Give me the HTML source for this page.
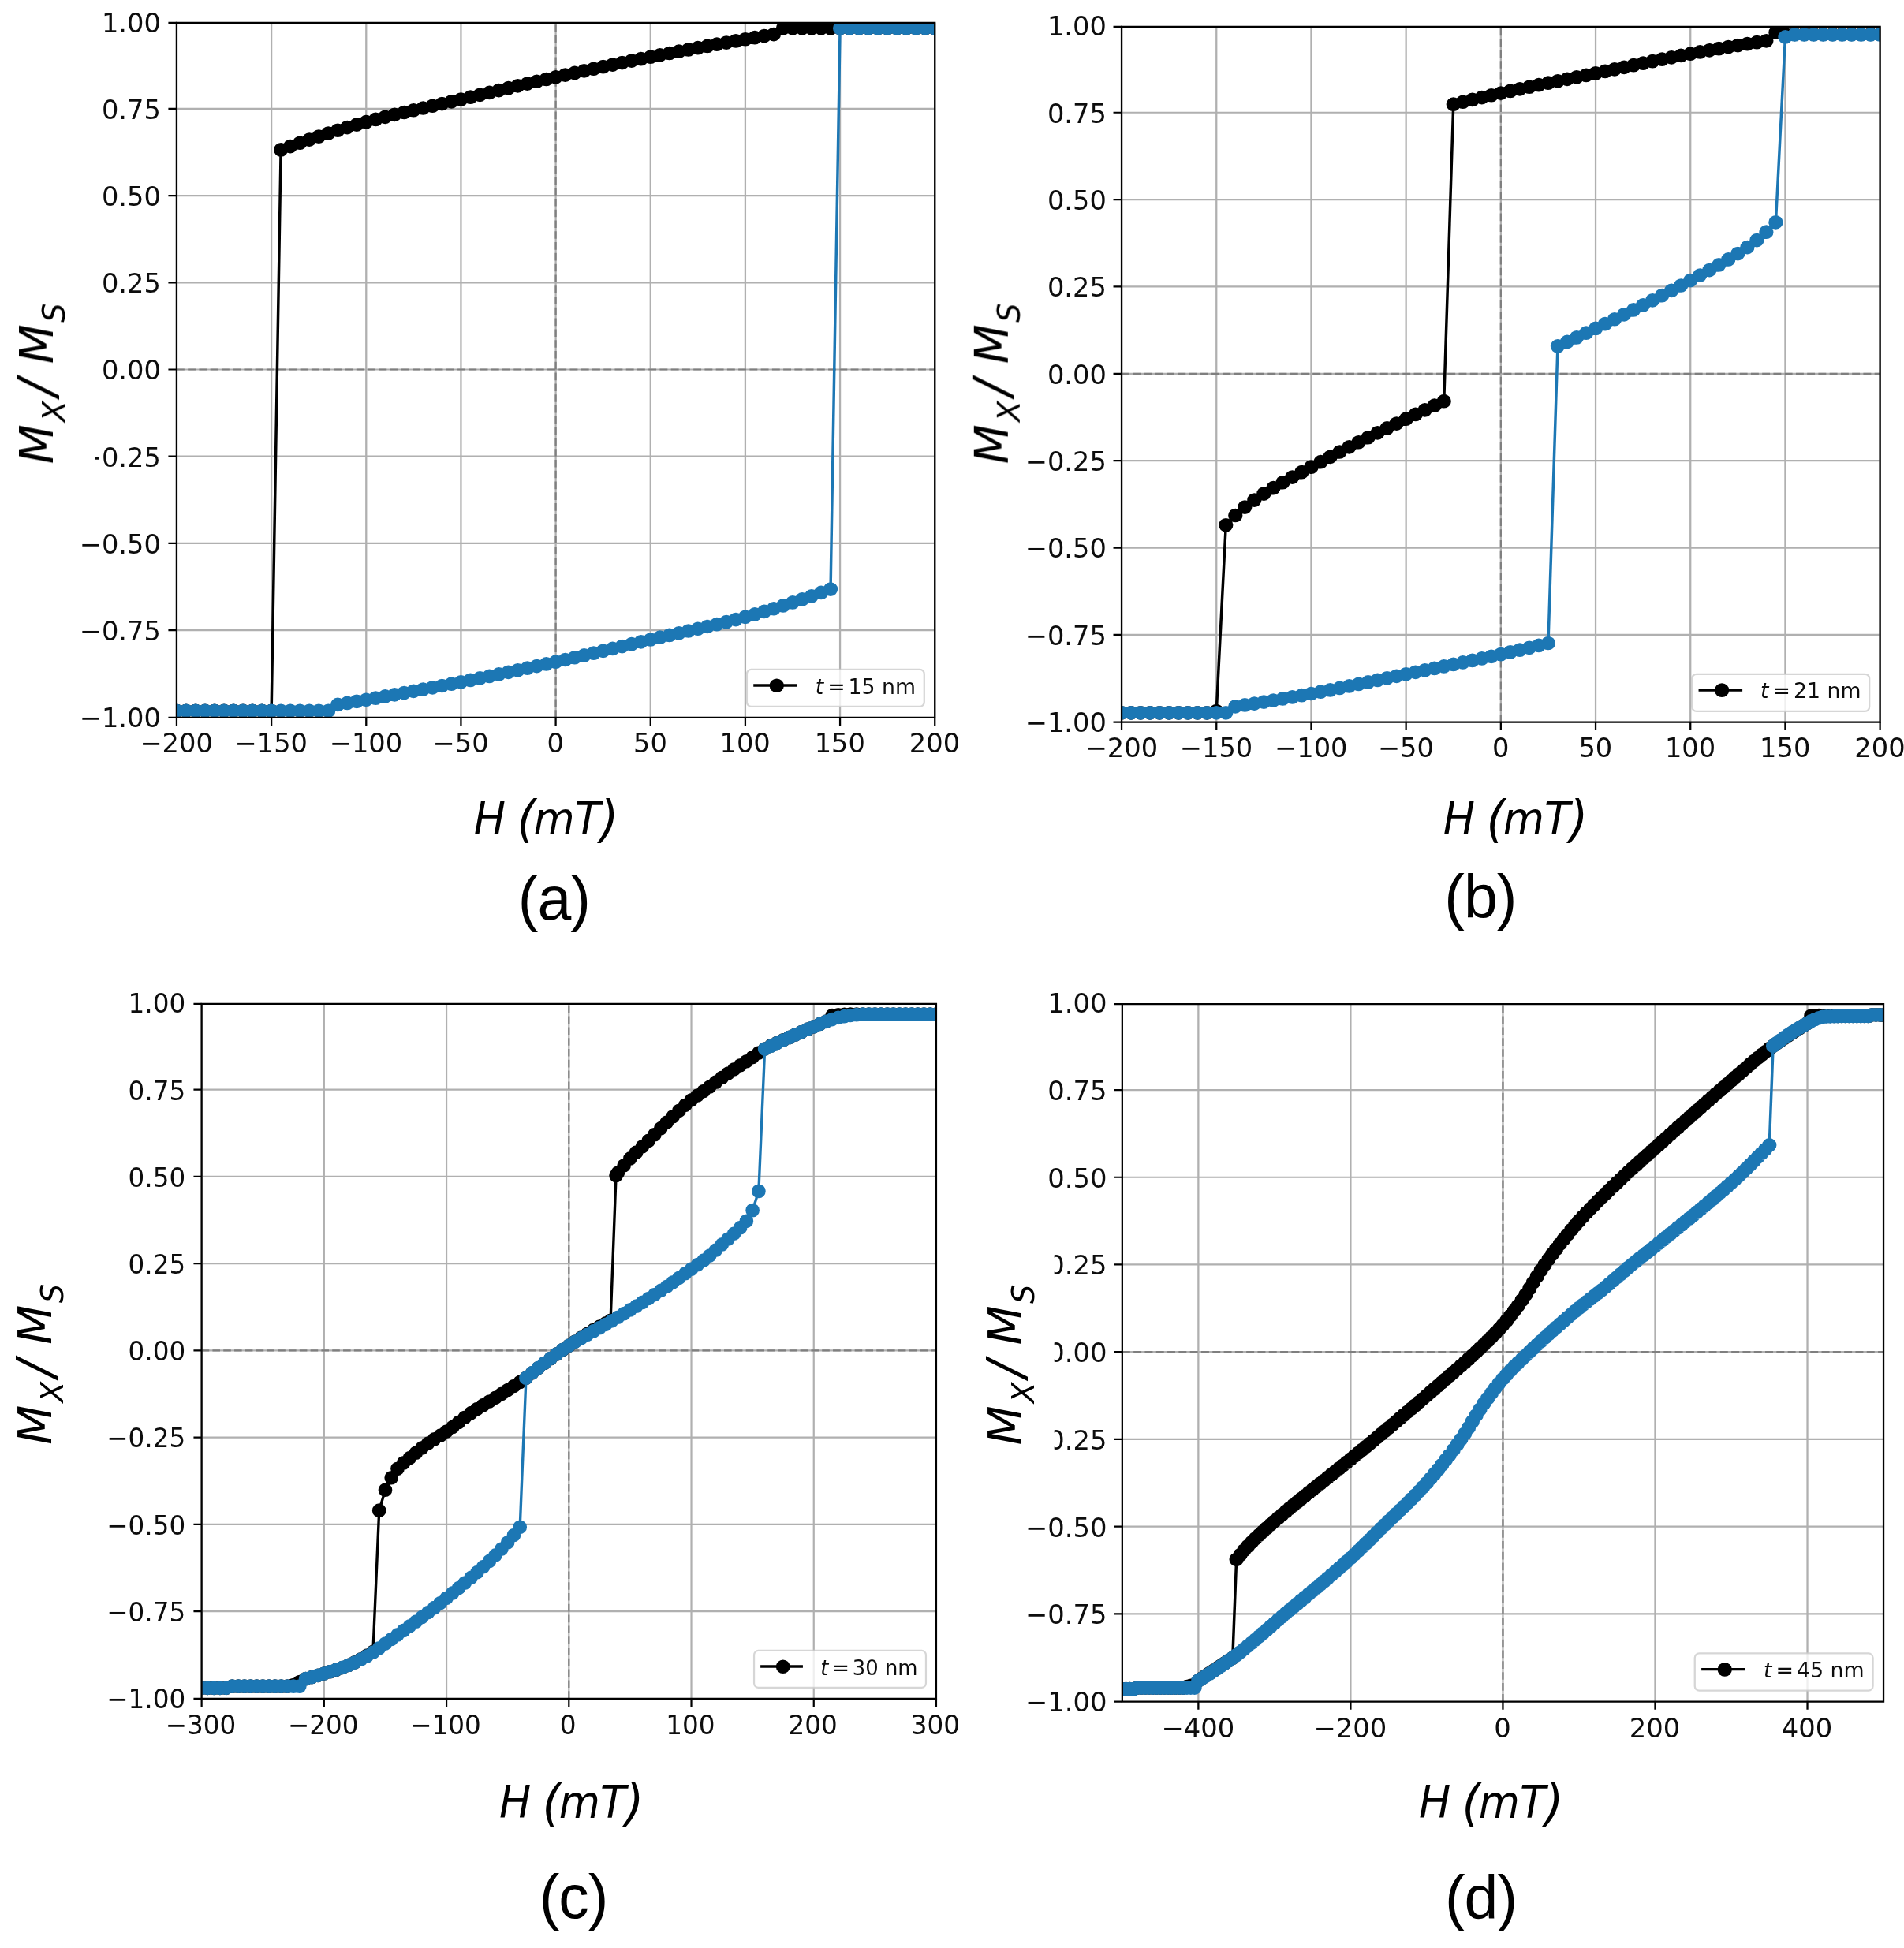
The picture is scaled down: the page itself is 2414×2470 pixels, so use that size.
<!DOCTYPE html>
<html lang="en"><head><meta charset="utf-8"><title>Hysteresis loops</title>
<style>html,body{margin:0;padding:0;background:#fff}svg{display:block;font-family:"DejaVu Sans","Liberation Sans",sans-serif}</style></head>
<body>
<svg width="2414" height="2470" viewBox="0 0 2414 2470">
<rect width="2414" height="2470" fill="#fff"/>
<defs><filter id="soft" x="-5%" y="-5%" width="110%" height="110%"><feGaussianBlur stdDeviation="0.7"/></filter></defs>
<g filter="url(#soft)"><g transform="translate(223.95,27.7) scale(1.03215,0.99957)">
<clipPath id="clip_a"><rect x="0" y="1.27" width="931.34" height="881.21"/></clipPath>
<path d="M0 1.27V882.48M116.42 1.27V882.48M232.84 1.27V882.48M349.25 1.27V882.48M465.67 1.27V882.48M582.09 1.27V882.48M698.5 1.27V882.48M814.92 1.27V882.48M931.34 1.27V882.48M0 110.25H931.34M0 220.5H931.34M0 330.74H931.34M0 440.99H931.34M0 551.24H931.34M0 661.49H931.34M0 771.73H931.34" stroke="#b0b0b0" stroke-width="2.2" fill="none"/>
<path d="M0 440.99H931.34M465.67 882.48V1.27" stroke="#7f7f7f" stroke-width="2.2" stroke-dasharray="9.6 4.2" fill="none"/>
<g clip-path="url(#clip_a)">
<path d="M931.34 7.94L919.7 7.94L908.06 7.94L896.41 7.94L884.77 7.94L873.13 7.94L861.49 7.94L849.85 7.94L838.21 7.94L826.56 7.94L814.92 7.94L803.28 7.94L791.64 7.94L780 7.94L768.36 7.94L756.71 7.94L745.07 7.94L733.43 15.88L721.79 17.9L710.15 19.95L698.5 22.05L686.86 24.19L675.22 26.35L663.58 28.53L651.94 30.74L640.3 32.97L628.65 35.22L617.01 37.51L605.37 39.82L593.73 42.16L582.09 44.54L570.45 46.95L558.8 49.4L547.16 51.89L535.52 54.41L523.88 56.97L512.24 59.55L500.6 62.16L488.95 64.79L477.31 67.44L465.67 70.12L454.03 72.83L442.39 75.58L430.74 78.37L419.1 81.19L407.46 84.03L395.82 86.89L384.18 89.75L372.54 92.62L360.89 95.49L349.25 98.34L337.61 101.15L325.97 103.9L314.33 106.62L302.69 109.34L291.04 112.08L279.4 114.86L267.76 117.72L256.12 120.68L244.48 123.77L232.84 127.01L221.19 130.4L209.55 133.95L197.91 137.63L186.27 141.45L174.63 145.4L162.98 149.46L151.34 153.63L139.7 157.91L128.06 162.28L116.42 874.04L104.78 874.04L93.13 874.04L81.49 874.04L69.85 874.04L58.21 874.04L46.57 874.04L34.93 874.04L23.28 874.04L11.64 874.04L0 874.04" stroke="#000" stroke-width="3.4" fill="none" stroke-linejoin="round"/>
<path d="M931.34 7.94h0M919.7 7.94h0M908.06 7.94h0M896.41 7.94h0M884.77 7.94h0M873.13 7.94h0M861.49 7.94h0M849.85 7.94h0M838.21 7.94h0M826.56 7.94h0M814.92 7.94h0M803.28 7.94h0M791.64 7.94h0M780 7.94h0M768.36 7.94h0M756.71 7.94h0M745.07 7.94h0M733.43 15.88h0M721.79 17.9h0M710.15 19.95h0M698.5 22.05h0M686.86 24.19h0M675.22 26.35h0M663.58 28.53h0M651.94 30.74h0M640.3 32.97h0M628.65 35.22h0M617.01 37.51h0M605.37 39.82h0M593.73 42.16h0M582.09 44.54h0M570.45 46.95h0M558.8 49.4h0M547.16 51.89h0M535.52 54.41h0M523.88 56.97h0M512.24 59.55h0M500.6 62.16h0M488.95 64.79h0M477.31 67.44h0M465.67 70.12h0M454.03 72.83h0M442.39 75.58h0M430.74 78.37h0M419.1 81.19h0M407.46 84.03h0M395.82 86.89h0M384.18 89.75h0M372.54 92.62h0M360.89 95.49h0M349.25 98.34h0M337.61 101.15h0M325.97 103.9h0M314.33 106.62h0M302.69 109.34h0M291.04 112.08h0M279.4 114.86h0M267.76 117.72h0M256.12 120.68h0M244.48 123.77h0M232.84 127.01h0M221.19 130.4h0M209.55 133.95h0M197.91 137.63h0M186.27 141.45h0M174.63 145.4h0M162.98 149.46h0M151.34 153.63h0M139.7 157.91h0M128.06 162.28h0M116.42 874.04h0M104.78 874.04h0M93.13 874.04h0M81.49 874.04h0M69.85 874.04h0M58.21 874.04h0M46.57 874.04h0M34.93 874.04h0M23.28 874.04h0M11.64 874.04h0M0 874.04h0" stroke="#000" stroke-width="17.7" stroke-linecap="round" fill="none"/>
<path d="M0 874.04L11.64 874.04L23.28 874.04L34.93 874.04L46.57 874.04L58.21 874.04L69.85 874.04L81.49 874.04L93.13 874.04L104.78 874.04L116.42 874.04L128.06 874.04L139.7 874.04L151.34 874.04L162.98 874.04L174.63 874.04L186.27 874.04L197.91 866.1L209.55 864.08L221.19 862.03L232.84 859.93L244.48 857.79L256.12 855.63L267.76 853.45L279.4 851.24L291.04 849.01L302.69 846.76L314.33 844.47L325.97 842.16L337.61 839.82L349.25 837.44L360.89 835.03L372.54 832.58L384.18 830.09L395.82 827.57L407.46 825.01L419.1 822.43L430.74 819.82L442.39 817.19L454.03 814.54L465.67 811.86L477.31 809.15L488.95 806.4L500.6 803.61L512.24 800.79L523.88 797.95L535.52 795.09L547.16 792.23L558.8 789.36L570.45 786.49L582.09 783.64L593.73 780.83L605.37 778.08L617.01 775.36L628.65 772.64L640.3 769.9L651.94 767.12L663.58 764.26L675.22 761.3L686.86 758.21L698.5 754.97L710.15 751.58L721.79 748.03L733.43 744.35L745.07 740.53L756.71 736.58L768.36 732.52L780 728.35L791.64 724.07L803.28 719.7L814.92 7.94L826.56 7.94L838.21 7.94L849.85 7.94L861.49 7.94L873.13 7.94L884.77 7.94L896.41 7.94L908.06 7.94L919.7 7.94L931.34 7.94" stroke="#1f77b4" stroke-width="3.4" fill="none" stroke-linejoin="round"/>
<path d="M0 874.04h0M11.64 874.04h0M23.28 874.04h0M34.93 874.04h0M46.57 874.04h0M58.21 874.04h0M69.85 874.04h0M81.49 874.04h0M93.13 874.04h0M104.78 874.04h0M116.42 874.04h0M128.06 874.04h0M139.7 874.04h0M151.34 874.04h0M162.98 874.04h0M174.63 874.04h0M186.27 874.04h0M197.91 866.1h0M209.55 864.08h0M221.19 862.03h0M232.84 859.93h0M244.48 857.79h0M256.12 855.63h0M267.76 853.45h0M279.4 851.24h0M291.04 849.01h0M302.69 846.76h0M314.33 844.47h0M325.97 842.16h0M337.61 839.82h0M349.25 837.44h0M360.89 835.03h0M372.54 832.58h0M384.18 830.09h0M395.82 827.57h0M407.46 825.01h0M419.1 822.43h0M430.74 819.82h0M442.39 817.19h0M454.03 814.54h0M465.67 811.86h0M477.31 809.15h0M488.95 806.4h0M500.6 803.61h0M512.24 800.79h0M523.88 797.95h0M535.52 795.09h0M547.16 792.23h0M558.8 789.36h0M570.45 786.49h0M582.09 783.64h0M593.73 780.83h0M605.37 778.08h0M617.01 775.36h0M628.65 772.64h0M640.3 769.9h0M651.94 767.12h0M663.58 764.26h0M675.22 761.3h0M686.86 758.21h0M698.5 754.97h0M710.15 751.58h0M721.79 748.03h0M733.43 744.35h0M745.07 740.53h0M756.71 736.58h0M768.36 732.52h0M780 728.35h0M791.64 724.07h0M803.28 719.7h0M814.92 7.94h0M826.56 7.94h0M838.21 7.94h0M849.85 7.94h0M861.49 7.94h0M873.13 7.94h0M884.77 7.94h0M896.41 7.94h0M908.06 7.94h0M919.7 7.94h0M931.34 7.94h0" stroke="#1f77b4" stroke-width="17.7" stroke-linecap="round" fill="none"/>
</g>
<rect x="700.44" y="821.57" width="217.88" height="46.95" rx="5.5" fill="#fff" fill-opacity="0.8" stroke="#ccc" stroke-opacity="0.8" stroke-width="2.2"/>
<path d="M708.5 841.7H762.3" stroke="#000" stroke-width="3.4"/>
<circle cx="737.1" cy="841.9" r="8.85" fill="#000"/>
<text y="852.2" font-size="25.9" fill="#111"><tspan x="784.6" font-style="italic">t</tspan><tspan x="799.5">=</tspan><tspan x="825.1">15 nm</tspan></text>
<path d="M0 1.27H931.34V882.48H0Z" fill="none" stroke="#000" stroke-width="2.2"/>
<path d="M0 882.48v10.2M116.42 882.48v10.2M232.84 882.48v10.2M349.25 882.48v10.2M465.67 882.48v10.2M582.09 882.48v10.2M698.5 882.48v10.2M814.92 882.48v10.2M931.34 882.48v10.2M0 1.27h-10.2M0 110.25h-10.2M0 220.5h-10.2M0 330.74h-10.2M0 440.99h-10.2M0 551.24h-10.2M0 661.49h-10.2M0 771.73h-10.2M0 882.48h-10.2" stroke="#000" stroke-width="2.2" fill="none"/>
<g font-size="32.6" fill="#111">
<text transform="translate(-0.3,927.18) scale(1,1.045)" text-anchor="middle">−200</text>
<text transform="translate(116.12,927.18) scale(1,1.045)" text-anchor="middle">−150</text>
<text transform="translate(232.53,927.18) scale(1,1.045)" text-anchor="middle">−100</text>
<text transform="translate(348.95,927.18) scale(1,1.045)" text-anchor="middle">−50</text>
<text transform="translate(465.37,927.18) scale(1,1.045)" text-anchor="middle">0</text>
<text transform="translate(581.79,927.18) scale(1,1.045)" text-anchor="middle">50</text>
<text transform="translate(698.21,927.18) scale(1,1.045)" text-anchor="middle">100</text>
<text transform="translate(814.62,927.18) scale(1,1.045)" text-anchor="middle">150</text>
<text transform="translate(931.04,927.18) scale(1,1.045)" text-anchor="middle">200</text>
<text transform="translate(-19.5,12.9) scale(1,1.045)" text-anchor="end">1.00</text>
<text transform="translate(-19.5,123.15) scale(1,1.045)" text-anchor="end">0.75</text>
<text transform="translate(-19.5,233.4) scale(1,1.045)" text-anchor="end">0.50</text>
<text transform="translate(-19.5,343.64) scale(1,1.045)" text-anchor="end">0.25</text>
<text transform="translate(-19.5,453.89) scale(1,1.045)" text-anchor="end">0.00</text>
<text transform="translate(-19.5,564.14) scale(1,1.045)" text-anchor="end">−0.25</text>
<text transform="translate(-19.5,674.38) scale(1,1.045)" text-anchor="end">−0.50</text>
<text transform="translate(-19.5,784.63) scale(1,1.045)" text-anchor="end">−0.75</text>
<text transform="translate(-19.5,894.88) scale(1,1.045)" text-anchor="end">−1.00</text>
</g>
</g></g>
<g filter="url(#soft)"><g transform="translate(1422.06,32.4) scale(1.03246,1.00099)">
<clipPath id="clip_b"><rect x="0" y="1.4" width="931.34" height="880.95"/></clipPath>
<path d="M0 1.4V882.35M116.42 1.4V882.35M232.84 1.4V882.35M349.25 1.4V882.35M465.67 1.4V882.35M582.09 1.4V882.35M698.5 1.4V882.35M814.92 1.4V882.35M931.34 1.4V882.35M0 110.25H931.34M0 220.5H931.34M0 330.74H931.34M0 440.99H931.34M0 551.24H931.34M0 661.49H931.34M0 771.73H931.34" stroke="#b0b0b0" stroke-width="2.2" fill="none"/>
<path d="M0 440.99H931.34M465.67 882.35V1.4" stroke="#7f7f7f" stroke-width="2.2" stroke-dasharray="9.6 4.2" fill="none"/>
<g clip-path="url(#clip_b)">
<path d="M931.34 11.02L919.7 11.02L908.06 11.02L896.41 11.02L884.77 11.02L873.13 11.02L861.49 11.02L849.85 11.02L838.21 11.02L826.56 11.02L814.92 11.02L803.28 8.82L791.64 19.4L780 21.28L768.36 23.2L756.71 25.17L745.07 27.18L733.43 29.25L721.79 31.36L710.15 33.52L698.5 35.72L686.86 37.99L675.22 40.34L663.58 42.76L651.94 45.23L640.3 47.74L628.65 50.27L617.01 52.82L605.37 55.37L593.73 57.91L582.09 60.42L570.45 62.9L558.8 65.36L547.16 67.82L535.52 70.28L523.88 72.75L512.24 75.24L500.6 77.76L488.95 80.31L477.31 82.9L465.67 85.55L454.03 88.26L442.39 91.04L430.74 93.87L419.1 96.75L407.46 99.66L395.82 475.83L384.18 481.34L372.54 486.91L360.89 492.56L349.25 498.32L337.61 504.14L325.97 509.99L314.33 515.89L302.69 521.83L291.04 527.84L279.4 533.91L267.76 540.08L256.12 546.33L244.48 552.7L232.84 559.18L221.19 565.66L209.55 572.14L197.91 578.77L186.27 585.7L174.63 593.08L162.98 601.07L151.34 610.1L139.7 620.47L128.06 632.82L116.42 868.31L104.78 870.51L93.13 870.51L81.49 870.51L69.85 870.51L58.21 870.51L46.57 870.51L34.93 870.51L23.28 870.51L11.64 870.51L0 870.51" stroke="#000" stroke-width="3.4" fill="none" stroke-linejoin="round"/>
<path d="M931.34 11.02h0M919.7 11.02h0M908.06 11.02h0M896.41 11.02h0M884.77 11.02h0M873.13 11.02h0M861.49 11.02h0M849.85 11.02h0M838.21 11.02h0M826.56 11.02h0M814.92 11.02h0M803.28 8.82h0M791.64 19.4h0M780 21.28h0M768.36 23.2h0M756.71 25.17h0M745.07 27.18h0M733.43 29.25h0M721.79 31.36h0M710.15 33.52h0M698.5 35.72h0M686.86 37.99h0M675.22 40.34h0M663.58 42.76h0M651.94 45.23h0M640.3 47.74h0M628.65 50.27h0M617.01 52.82h0M605.37 55.37h0M593.73 57.91h0M582.09 60.42h0M570.45 62.9h0M558.8 65.36h0M547.16 67.82h0M535.52 70.28h0M523.88 72.75h0M512.24 75.24h0M500.6 77.76h0M488.95 80.31h0M477.31 82.9h0M465.67 85.55h0M454.03 88.26h0M442.39 91.04h0M430.74 93.87h0M419.1 96.75h0M407.46 99.66h0M395.82 475.83h0M384.18 481.34h0M372.54 486.91h0M360.89 492.56h0M349.25 498.32h0M337.61 504.14h0M325.97 509.99h0M314.33 515.89h0M302.69 521.83h0M291.04 527.84h0M279.4 533.91h0M267.76 540.08h0M256.12 546.33h0M244.48 552.7h0M232.84 559.18h0M221.19 565.66h0M209.55 572.14h0M197.91 578.77h0M186.27 585.7h0M174.63 593.08h0M162.98 601.07h0M151.34 610.1h0M139.7 620.47h0M128.06 632.82h0M116.42 868.31h0M104.78 870.51h0M93.13 870.51h0M81.49 870.51h0M69.85 870.51h0M58.21 870.51h0M46.57 870.51h0M34.93 870.51h0M23.28 870.51h0M11.64 870.51h0M0 870.51h0" stroke="#000" stroke-width="17.7" stroke-linecap="round" fill="none"/>
<path d="M0 870.51L11.64 870.51L23.28 870.51L34.93 870.51L46.57 870.51L58.21 870.51L69.85 870.51L81.49 870.51L93.13 870.51L104.78 870.51L116.42 870.51L128.06 870.51L139.7 862.58L151.34 860.7L162.98 858.78L174.63 856.81L186.27 854.8L197.91 852.73L209.55 850.62L221.19 848.46L232.84 846.26L244.48 843.99L256.12 841.64L267.76 839.22L279.4 836.75L291.04 834.24L302.69 831.71L314.33 829.16L325.97 826.61L337.61 824.07L349.25 821.56L360.89 819.08L372.54 816.62L384.18 814.16L395.82 811.7L407.46 809.23L419.1 806.74L430.74 804.22L442.39 801.67L454.03 799.08L465.67 796.43L477.31 793.72L488.95 790.94L500.6 788.11L512.24 785.23L523.88 782.32L535.52 406.15L547.16 400.64L558.8 395.07L570.45 389.42L582.09 383.66L593.73 377.84L605.37 371.99L617.01 366.09L628.65 360.15L640.3 354.14L651.94 348.07L663.58 341.9L675.22 335.65L686.86 329.28L698.5 322.8L710.15 316.32L721.79 309.84L733.43 303.21L745.07 296.28L756.71 288.9L768.36 280.91L780 271.88L791.64 261.51L803.28 249.16L814.92 14.55L826.56 11.47L838.21 11.47L849.85 11.47L861.49 11.47L873.13 11.47L884.77 11.47L896.41 11.47L908.06 11.47L919.7 11.47L931.34 11.47" stroke="#1f77b4" stroke-width="3.4" fill="none" stroke-linejoin="round"/>
<path d="M0 870.51h0M11.64 870.51h0M23.28 870.51h0M34.93 870.51h0M46.57 870.51h0M58.21 870.51h0M69.85 870.51h0M81.49 870.51h0M93.13 870.51h0M104.78 870.51h0M116.42 870.51h0M128.06 870.51h0M139.7 862.58h0M151.34 860.7h0M162.98 858.78h0M174.63 856.81h0M186.27 854.8h0M197.91 852.73h0M209.55 850.62h0M221.19 848.46h0M232.84 846.26h0M244.48 843.99h0M256.12 841.64h0M267.76 839.22h0M279.4 836.75h0M291.04 834.24h0M302.69 831.71h0M314.33 829.16h0M325.97 826.61h0M337.61 824.07h0M349.25 821.56h0M360.89 819.08h0M372.54 816.62h0M384.18 814.16h0M395.82 811.7h0M407.46 809.23h0M419.1 806.74h0M430.74 804.22h0M442.39 801.67h0M454.03 799.08h0M465.67 796.43h0M477.31 793.72h0M488.95 790.94h0M500.6 788.11h0M512.24 785.23h0M523.88 782.32h0M535.52 406.15h0M547.16 400.64h0M558.8 395.07h0M570.45 389.42h0M582.09 383.66h0M593.73 377.84h0M605.37 371.99h0M617.01 366.09h0M628.65 360.15h0M640.3 354.14h0M651.94 348.07h0M663.58 341.9h0M675.22 335.65h0M686.86 329.28h0M698.5 322.8h0M710.15 316.32h0M721.79 309.84h0M733.43 303.21h0M745.07 296.28h0M756.71 288.9h0M768.36 280.91h0M780 271.88h0M791.64 261.51h0M803.28 249.16h0M814.92 14.55h0M826.56 11.47h0M838.21 11.47h0M849.85 11.47h0M861.49 11.47h0M873.13 11.47h0M884.77 11.47h0M896.41 11.47h0M908.06 11.47h0M919.7 11.47h0M931.34 11.47h0" stroke="#1f77b4" stroke-width="17.7" stroke-linecap="round" fill="none"/>
</g>
<rect x="700.44" y="821.57" width="217.88" height="46.95" rx="5.5" fill="#fff" fill-opacity="0.8" stroke="#ccc" stroke-opacity="0.8" stroke-width="2.2"/>
<path d="M708.5 841.7H762.3" stroke="#000" stroke-width="3.4"/>
<circle cx="737.1" cy="841.9" r="8.85" fill="#000"/>
<text y="852.2" font-size="25.9" fill="#111"><tspan x="784.6" font-style="italic">t</tspan><tspan x="799.5">=</tspan><tspan x="825.1">21 nm</tspan></text>
<path d="M0 1.4H931.34V882.35H0Z" fill="none" stroke="#000" stroke-width="2.2"/>
<path d="M0 882.35v10.2M116.42 882.35v10.2M232.84 882.35v10.2M349.25 882.35v10.2M465.67 882.35v10.2M582.09 882.35v10.2M698.5 882.35v10.2M814.92 882.35v10.2M931.34 882.35v10.2M0 1.4h-10.2M0 110.25h-10.2M0 220.5h-10.2M0 330.74h-10.2M0 440.99h-10.2M0 551.24h-10.2M0 661.49h-10.2M0 771.73h-10.2M0 882.35h-10.2" stroke="#000" stroke-width="2.2" fill="none"/>
<g font-size="32.6" fill="#111">
<text transform="translate(-0.2,927.18) scale(1,1.045)" text-anchor="middle">−200</text>
<text transform="translate(116.22,927.18) scale(1,1.045)" text-anchor="middle">−150</text>
<text transform="translate(232.64,927.18) scale(1,1.045)" text-anchor="middle">−100</text>
<text transform="translate(349.05,927.18) scale(1,1.045)" text-anchor="middle">−50</text>
<text transform="translate(465.47,927.18) scale(1,1.045)" text-anchor="middle">0</text>
<text transform="translate(581.89,927.18) scale(1,1.045)" text-anchor="middle">50</text>
<text transform="translate(698.3,927.18) scale(1,1.045)" text-anchor="middle">100</text>
<text transform="translate(814.72,927.18) scale(1,1.045)" text-anchor="middle">150</text>
<text transform="translate(931.14,927.18) scale(1,1.045)" text-anchor="middle">200</text>
<text transform="translate(-18.6,12.9) scale(1,1.045)" text-anchor="end">1.00</text>
<text transform="translate(-18.6,123.15) scale(1,1.045)" text-anchor="end">0.75</text>
<text transform="translate(-18.6,233.4) scale(1,1.045)" text-anchor="end">0.50</text>
<text transform="translate(-18.6,343.64) scale(1,1.045)" text-anchor="end">0.25</text>
<text transform="translate(-18.6,453.89) scale(1,1.045)" text-anchor="end">0.00</text>
<text transform="translate(-18.6,564.14) scale(1,1.045)" text-anchor="end">−0.25</text>
<text transform="translate(-18.6,674.38) scale(1,1.045)" text-anchor="end">−0.50</text>
<text transform="translate(-18.6,784.63) scale(1,1.045)" text-anchor="end">−0.75</text>
<text transform="translate(-18.6,894.88) scale(1,1.045)" text-anchor="end">−1.00</text>
</g>
</g></g>
<g filter="url(#soft)"><g transform="translate(255.63,1271.35) scale(1.00000,1.00000)">
<clipPath id="clip_c"><rect x="0" y="1.59" width="931.34" height="880.84"/></clipPath>
<path d="M0 1.59V882.43M155.22 1.59V882.43M310.45 1.59V882.43M465.67 1.59V882.43M620.89 1.59V882.43M776.12 1.59V882.43M931.34 1.59V882.43M0 110.25H931.34M0 220.5H931.34M0 330.74H931.34M0 440.99H931.34M0 551.24H931.34M0 661.49H931.34M0 771.73H931.34" stroke="#b0b0b0" stroke-width="2.2" fill="none"/>
<path d="M0 440.99H931.34M465.67 882.43V1.59" stroke="#7f7f7f" stroke-width="2.2" stroke-dasharray="9.6 4.2" fill="none"/>
<g clip-path="url(#clip_c)">
<path d="M931.34 14.77L923.58 14.77L915.82 14.77L908.06 14.77L900.3 14.77L892.53 14.77L884.77 14.77L877.01 14.77L869.25 14.77L861.49 14.77L853.73 14.77L845.97 14.77L838.21 14.77L830.44 14.77L822.68 14.77L814.92 14.99L807.16 15.43L799.4 16.32L791.64 23.81L783.88 27.1L776.12 30.43L768.36 33.79L760.59 37.18L752.83 40.61L745.07 44.1L737.31 47.53L729.55 50.94L721.79 54.56L714.03 58.65L706.27 63.74L698.5 69.24L690.74 74.38L682.98 79.42L675.22 84.48L667.46 89.64L659.7 95.03L651.94 100.77L644.18 106.63L636.42 112.25L628.65 117.67L620.89 123.48L613.13 129.98L605.37 136.97L597.61 144.28L589.85 151.7L582.09 159.36L574.33 167.27L566.57 175.07L558.8 182.47L551.04 189.78L543.28 197.56L535.52 206.38L527.76 215.64L525.43 219.17L518.45 403.06L512.24 406.59L504.48 410.86L496.71 415.3L488.95 419.93L481.19 424.73L473.43 429.69L465.67 434.82L457.91 440.12L450.15 445.61L442.39 451.29L434.63 457.16L426.86 463.21L419.1 469.43L411.34 475.83L403.58 481.12L395.82 486.16L388.06 491.16L380.3 496.11L372.54 500.94L364.77 505.65L357.01 510.37L349.25 515.23L341.49 520.37L333.73 526.01L325.97 532.03L318.21 538.07L310.45 543.74L302.69 548.79L294.92 553.58L287.16 558.73L279.4 564.54L271.64 570.79L263.88 577.26L256.12 583.52L248.36 590.93L240.6 602.39L232.84 617.83L225.07 643.85L217.31 822.89L209.55 827.84L201.79 832.41L194.03 836.52L186.27 840.09L178.51 843.13L170.75 845.82L162.98 848.28L155.22 850.67L147.46 853L139.7 855.21L131.94 857.28L124.18 861.25L116.42 865.22L108.66 866.77L100.9 866.77L93.13 866.77L85.37 866.77L77.61 866.77L69.85 866.77L62.09 866.77L54.33 866.77L46.57 866.77L38.81 866.77L31.04 868.97L23.28 868.97L15.52 868.97L7.76 868.97L0 868.97" stroke="#000" stroke-width="3.4" fill="none" stroke-linejoin="round"/>
<path d="M931.34 14.77h0M923.58 14.77h0M915.82 14.77h0M908.06 14.77h0M900.3 14.77h0M892.53 14.77h0M884.77 14.77h0M877.01 14.77h0M869.25 14.77h0M861.49 14.77h0M853.73 14.77h0M845.97 14.77h0M838.21 14.77h0M830.44 14.77h0M822.68 14.77h0M814.92 14.99h0M807.16 15.43h0M799.4 16.32h0M791.64 23.81h0M783.88 27.1h0M776.12 30.43h0M768.36 33.79h0M760.59 37.18h0M752.83 40.61h0M745.07 44.1h0M737.31 47.53h0M729.55 50.94h0M721.79 54.56h0M714.03 58.65h0M706.27 63.74h0M698.5 69.24h0M690.74 74.38h0M682.98 79.42h0M675.22 84.48h0M667.46 89.64h0M659.7 95.03h0M651.94 100.77h0M644.18 106.63h0M636.42 112.25h0M628.65 117.67h0M620.89 123.48h0M613.13 129.98h0M605.37 136.97h0M597.61 144.28h0M589.85 151.7h0M582.09 159.36h0M574.33 167.27h0M566.57 175.07h0M558.8 182.47h0M551.04 189.78h0M543.28 197.56h0M535.52 206.38h0M527.76 215.64h0M525.43 219.17h0M518.45 403.06h0M512.24 406.59h0M504.48 410.86h0M496.71 415.3h0M488.95 419.93h0M481.19 424.73h0M473.43 429.69h0M465.67 434.82h0M457.91 440.12h0M450.15 445.61h0M442.39 451.29h0M434.63 457.16h0M426.86 463.21h0M419.1 469.43h0M411.34 475.83h0M403.58 481.12h0M395.82 486.16h0M388.06 491.16h0M380.3 496.11h0M372.54 500.94h0M364.77 505.65h0M357.01 510.37h0M349.25 515.23h0M341.49 520.37h0M333.73 526.01h0M325.97 532.03h0M318.21 538.07h0M310.45 543.74h0M302.69 548.79h0M294.92 553.58h0M287.16 558.73h0M279.4 564.54h0M271.64 570.79h0M263.88 577.26h0M256.12 583.52h0M248.36 590.93h0M240.6 602.39h0M232.84 617.83h0M225.07 643.85h0M217.31 822.89h0M209.55 827.84h0M201.79 832.41h0M194.03 836.52h0M186.27 840.09h0M178.51 843.13h0M170.75 845.82h0M162.98 848.28h0M155.22 850.67h0M147.46 853h0M139.7 855.21h0M131.94 857.28h0M124.18 861.25h0M116.42 865.22h0M108.66 866.77h0M100.9 866.77h0M93.13 866.77h0M85.37 866.77h0M77.61 866.77h0M69.85 866.77h0M62.09 866.77h0M54.33 866.77h0M46.57 866.77h0M38.81 866.77h0M31.04 868.97h0M23.28 868.97h0M15.52 868.97h0M7.76 868.97h0M0 868.97h0" stroke="#000" stroke-width="17.7" stroke-linecap="round" fill="none"/>
<path d="M0 868.97L7.76 868.97L15.52 868.97L23.28 868.97L31.04 868.97L38.81 866.77L46.57 866.77L54.33 866.77L62.09 866.77L69.85 866.77L77.61 866.77L85.37 866.77L93.13 866.77L100.9 866.77L108.66 866.77L116.42 866.77L124.18 866.77L131.94 857.28L139.7 855.21L147.46 853L155.22 850.67L162.98 848.26L170.75 845.76L178.51 843.06L186.27 840.09L194.03 836.68L201.79 832.83L209.55 828.62L217.31 823.77L225.07 818.38L232.84 812.74L240.6 807.15L248.36 801.59L256.12 796.02L263.88 790.43L271.64 784.79L279.4 779.07L287.16 773.26L294.92 767.32L302.69 761.23L310.45 754.97L318.21 748.62L325.97 742.21L333.73 735.73L341.49 729.12L349.25 722.34L357.01 715.35L364.77 708.1L372.54 700.56L380.3 692.68L388.06 684.42L395.82 675.13L403.58 665.01L411.34 475.83L419.1 469.36L426.86 463.08L434.63 457L442.39 451.11L450.15 445.45L457.91 440.01L465.67 434.82L473.43 429.92L481.19 425.3L488.95 420.89L496.71 416.59L504.48 412.32L512.24 407.99L520 403.51L527.76 398.91L535.52 394.28L543.28 389.61L551.04 384.87L558.8 380.04L566.57 375.15L574.33 370.18L582.09 365.1L589.85 359.9L597.61 354.51L605.37 348.98L613.13 343.38L620.89 337.8L628.65 332.36L636.42 326.82L644.18 320.68L651.94 313.76L659.7 306.58L667.46 299.64L675.22 292.71L682.98 285.32L690.74 276.94L698.5 263.27L706.27 239.02L714.03 58.65L721.79 54.93L729.55 51.26L737.31 47.65L745.07 44.1L752.83 40.6L760.59 37.15L768.36 33.76L776.12 30.43L783.88 27.08L791.64 23.94L799.4 21.21L807.16 18.96L814.92 17.29L822.68 16.13L830.44 15.27L838.21 14.86L845.97 14.84L853.73 14.83L861.49 14.82L869.25 14.81L877.01 14.8L884.77 14.79L892.53 14.78L900.3 14.78L908.06 14.78L915.82 14.77L923.58 14.77L931.34 14.77" stroke="#1f77b4" stroke-width="3.4" fill="none" stroke-linejoin="round"/>
<path d="M0 868.97h0M7.76 868.97h0M15.52 868.97h0M23.28 868.97h0M31.04 868.97h0M38.81 866.77h0M46.57 866.77h0M54.33 866.77h0M62.09 866.77h0M69.85 866.77h0M77.61 866.77h0M85.37 866.77h0M93.13 866.77h0M100.9 866.77h0M108.66 866.77h0M116.42 866.77h0M124.18 866.77h0M131.94 857.28h0M139.7 855.21h0M147.46 853h0M155.22 850.67h0M162.98 848.26h0M170.75 845.76h0M178.51 843.06h0M186.27 840.09h0M194.03 836.68h0M201.79 832.83h0M209.55 828.62h0M217.31 823.77h0M225.07 818.38h0M232.84 812.74h0M240.6 807.15h0M248.36 801.59h0M256.12 796.02h0M263.88 790.43h0M271.64 784.79h0M279.4 779.07h0M287.16 773.26h0M294.92 767.32h0M302.69 761.23h0M310.45 754.97h0M318.21 748.62h0M325.97 742.21h0M333.73 735.73h0M341.49 729.12h0M349.25 722.34h0M357.01 715.35h0M364.77 708.1h0M372.54 700.56h0M380.3 692.68h0M388.06 684.42h0M395.82 675.13h0M403.58 665.01h0M411.34 475.83h0M419.1 469.36h0M426.86 463.08h0M434.63 457h0M442.39 451.11h0M450.15 445.45h0M457.91 440.01h0M465.67 434.82h0M473.43 429.92h0M481.19 425.3h0M488.95 420.89h0M496.71 416.59h0M504.48 412.32h0M512.24 407.99h0M520 403.51h0M527.76 398.91h0M535.52 394.28h0M543.28 389.61h0M551.04 384.87h0M558.8 380.04h0M566.57 375.15h0M574.33 370.18h0M582.09 365.1h0M589.85 359.9h0M597.61 354.51h0M605.37 348.98h0M613.13 343.38h0M620.89 337.8h0M628.65 332.36h0M636.42 326.82h0M644.18 320.68h0M651.94 313.76h0M659.7 306.58h0M667.46 299.64h0M675.22 292.71h0M682.98 285.32h0M690.74 276.94h0M698.5 263.27h0M706.27 239.02h0M714.03 58.65h0M721.79 54.93h0M729.55 51.26h0M737.31 47.65h0M745.07 44.1h0M752.83 40.6h0M760.59 37.15h0M768.36 33.76h0M776.12 30.43h0M783.88 27.08h0M791.64 23.94h0M799.4 21.21h0M807.16 18.96h0M814.92 17.29h0M822.68 16.13h0M830.44 15.27h0M838.21 14.86h0M845.97 14.84h0M853.73 14.83h0M861.49 14.82h0M869.25 14.81h0M877.01 14.8h0M884.77 14.79h0M892.53 14.78h0M900.3 14.78h0M908.06 14.78h0M915.82 14.77h0M923.58 14.77h0M931.34 14.77h0" stroke="#1f77b4" stroke-width="17.7" stroke-linecap="round" fill="none"/>
</g>
<rect x="700.44" y="821.57" width="217.88" height="46.95" rx="5.5" fill="#fff" fill-opacity="0.8" stroke="#ccc" stroke-opacity="0.8" stroke-width="2.2"/>
<path d="M708.5 841.7H762.3" stroke="#000" stroke-width="3.4"/>
<circle cx="737.1" cy="841.9" r="8.85" fill="#000"/>
<text y="852.2" font-size="25.9" fill="#111"><tspan x="784.6" font-style="italic">t</tspan><tspan x="799.5">=</tspan><tspan x="825.1">30 nm</tspan></text>
<path d="M0 1.59H931.34V882.43H0Z" fill="none" stroke="#000" stroke-width="2.2"/>
<path d="M0 882.43v10.2M155.22 882.43v10.2M310.45 882.43v10.2M465.67 882.43v10.2M620.89 882.43v10.2M776.12 882.43v10.2M931.34 882.43v10.2M0 1.59h-10.2M0 110.25h-10.2M0 220.5h-10.2M0 330.74h-10.2M0 440.99h-10.2M0 551.24h-10.2M0 661.49h-10.2M0 771.73h-10.2M0 882.43h-10.2" stroke="#000" stroke-width="2.2" fill="none"/>
<g font-size="32.6" fill="#111">
<text transform="translate(-1.2,927.18) scale(1,1.045)" text-anchor="middle">−300</text>
<text transform="translate(154.02,927.18) scale(1,1.045)" text-anchor="middle">−200</text>
<text transform="translate(309.25,927.18) scale(1,1.045)" text-anchor="middle">−100</text>
<text transform="translate(464.47,927.18) scale(1,1.045)" text-anchor="middle">0</text>
<text transform="translate(619.69,927.18) scale(1,1.045)" text-anchor="middle">100</text>
<text transform="translate(774.92,927.18) scale(1,1.045)" text-anchor="middle">200</text>
<text transform="translate(930.14,927.18) scale(1,1.045)" text-anchor="middle">300</text>
<text transform="translate(-20.5,12.9) scale(1,1.045)" text-anchor="end">1.00</text>
<text transform="translate(-20.5,123.15) scale(1,1.045)" text-anchor="end">0.75</text>
<text transform="translate(-20.5,233.4) scale(1,1.045)" text-anchor="end">0.50</text>
<text transform="translate(-20.5,343.64) scale(1,1.045)" text-anchor="end">0.25</text>
<text transform="translate(-20.5,453.89) scale(1,1.045)" text-anchor="end">0.00</text>
<text transform="translate(-20.5,564.14) scale(1,1.045)" text-anchor="end">−0.25</text>
<text transform="translate(-20.5,674.38) scale(1,1.045)" text-anchor="end">−0.50</text>
<text transform="translate(-20.5,784.63) scale(1,1.045)" text-anchor="end">−0.75</text>
<text transform="translate(-20.5,894.88) scale(1,1.045)" text-anchor="end">−1.00</text>
</g>
</g></g>
<g filter="url(#soft)"><g transform="translate(1422.85,1271.3) scale(1.03635,1.00435)">
<clipPath id="clip_d"><rect x="0" y="1.77" width="931.34" height="880.67"/></clipPath>
<path d="M93.13 1.77V882.44M279.4 1.77V882.44M465.67 1.77V882.44M651.94 1.77V882.44M838.21 1.77V882.44M0 110.25H931.34M0 220.5H931.34M0 330.74H931.34M0 440.99H931.34M0 551.24H931.34M0 661.49H931.34M0 771.73H931.34" stroke="#b0b0b0" stroke-width="2.2" fill="none"/>
<path d="M0 440.99H931.34M465.67 882.44V1.77" stroke="#7f7f7f" stroke-width="2.2" stroke-dasharray="9.6 4.2" fill="none"/>
<g clip-path="url(#clip_d)">
<path d="M931.34 15.43L926.68 15.43L922.03 15.43L917.37 15.43L912.71 16.98L908.06 16.98L903.4 16.98L898.74 16.98L894.09 16.98L889.43 16.98L884.77 16.98L880.12 16.98L875.46 16.98L870.8 16.98L866.15 16.98L861.49 16.98L856.83 16.98L852.18 16.32L847.52 16.54L842.86 16.76L838.21 26.02L833.55 28.94L828.89 31.94L824.24 35.02L819.58 38.17L814.92 41.38L810.27 44.64L805.61 47.95L800.95 51.3L796.3 54.68L791.64 58.21L786.98 61.96L782.33 65.8L777.67 69.72L773.01 73.71L768.36 77.76L763.7 81.86L759.04 85.99L754.39 90.16L749.73 94.35L745.07 98.54L740.42 102.73L735.76 106.92L731.1 111.08L726.45 115.24L721.79 119.43L717.13 123.62L712.48 127.83L707.82 132.06L703.16 136.3L698.5 140.54L693.85 144.8L689.19 149.07L684.53 153.35L679.88 157.63L675.22 161.92L670.56 166.22L665.91 170.52L661.25 174.83L656.59 179.14L651.94 183.45L647.28 187.75L642.62 192.04L637.97 196.33L633.31 200.64L628.65 204.97L624 209.33L619.34 213.75L614.68 218.23L610.03 222.77L605.37 227.31L600.71 231.85L596.06 236.41L591.4 241.01L586.74 245.66L582.09 250.38L577.43 255.19L572.77 260.1L568.12 265.13L563.46 270.3L558.8 275.62L554.15 281.11L549.49 286.77L544.83 292.59L540.18 298.57L535.52 304.71L530.86 311L526.21 317.44L521.55 324.02L516.89 330.74L512.24 337.84L507.58 345.41L502.92 353.22L498.27 361.03L493.61 368.61L488.95 375.72L484.3 382.45L479.64 389L474.98 395.32L470.33 401.34L465.67 407.03L461.01 412.4L456.36 417.53L451.7 422.45L447.04 427.21L442.39 431.86L437.73 436.44L433.07 440.99L428.42 445.48L423.76 449.86L419.1 454.16L414.45 458.4L409.79 462.6L405.13 466.79L400.48 470.98L395.82 475.17L391.16 479.36L386.51 483.53L381.85 487.69L377.19 491.84L372.54 495.98L367.88 500.11L363.22 504.23L358.57 508.34L353.91 512.43L349.25 516.52L344.6 520.59L339.94 524.66L335.28 528.71L330.63 532.76L325.97 536.79L321.31 540.82L316.66 544.83L312 548.84L307.34 552.83L302.69 556.79L298.03 560.72L293.37 564.64L288.72 568.54L284.06 572.45L279.4 576.37L274.75 580.29L270.09 584.18L265.43 588.05L260.78 591.9L256.12 595.74L251.46 599.56L246.81 603.38L242.15 607.21L237.49 611.03L232.84 614.87L228.18 618.72L223.52 622.58L218.86 626.47L214.21 630.39L209.55 634.33L204.89 638.31L200.24 642.34L195.58 646.4L190.92 650.52L186.27 654.69L181.61 658.92L176.95 663.21L172.3 667.54L167.64 671.96L162.98 676.51L158.33 681.23L153.67 686.18L149.01 691.46L144.36 697.08L139.7 702.94L135.04 827.3L130.39 830.48L125.73 833.67L121.07 836.85L116.42 840.04L111.76 843.22L107.1 846.41L102.45 849.59L97.79 852.78L93.13 855.96L88.48 861.25L83.82 862.36L79.16 863.46L74.51 865L69.85 865L65.19 865L60.54 865L55.88 865L51.22 865L46.57 865L41.91 865L37.25 865L32.6 865L27.94 865L23.28 865L18.63 865L13.97 866.55L9.31 866.55L4.66 866.55L0 866.55" stroke="#000" stroke-width="3.4" fill="none" stroke-linejoin="round"/>
<path d="M931.34 15.43h0M926.68 15.43h0M922.03 15.43h0M917.37 15.43h0M912.71 16.98h0M908.06 16.98h0M903.4 16.98h0M898.74 16.98h0M894.09 16.98h0M889.43 16.98h0M884.77 16.98h0M880.12 16.98h0M875.46 16.98h0M870.8 16.98h0M866.15 16.98h0M861.49 16.98h0M856.83 16.98h0M852.18 16.32h0M847.52 16.54h0M842.86 16.76h0M838.21 26.02h0M833.55 28.94h0M828.89 31.94h0M824.24 35.02h0M819.58 38.17h0M814.92 41.38h0M810.27 44.64h0M805.61 47.95h0M800.95 51.3h0M796.3 54.68h0M791.64 58.21h0M786.98 61.96h0M782.33 65.8h0M777.67 69.72h0M773.01 73.71h0M768.36 77.76h0M763.7 81.86h0M759.04 85.99h0M754.39 90.16h0M749.73 94.35h0M745.07 98.54h0M740.42 102.73h0M735.76 106.92h0M731.1 111.08h0M726.45 115.24h0M721.79 119.43h0M717.13 123.62h0M712.48 127.83h0M707.82 132.06h0M703.16 136.3h0M698.5 140.54h0M693.85 144.8h0M689.19 149.07h0M684.53 153.35h0M679.88 157.63h0M675.22 161.92h0M670.56 166.22h0M665.91 170.52h0M661.25 174.83h0M656.59 179.14h0M651.94 183.45h0M647.28 187.75h0M642.62 192.04h0M637.97 196.33h0M633.31 200.64h0M628.65 204.97h0M624 209.33h0M619.34 213.75h0M614.68 218.23h0M610.03 222.77h0M605.37 227.31h0M600.71 231.85h0M596.06 236.41h0M591.4 241.01h0M586.74 245.66h0M582.09 250.38h0M577.43 255.19h0M572.77 260.1h0M568.12 265.13h0M563.46 270.3h0M558.8 275.62h0M554.15 281.11h0M549.49 286.77h0M544.83 292.59h0M540.18 298.57h0M535.52 304.71h0M530.86 311h0M526.21 317.44h0M521.55 324.02h0M516.89 330.74h0M512.24 337.84h0M507.58 345.41h0M502.92 353.22h0M498.27 361.03h0M493.61 368.61h0M488.95 375.72h0M484.3 382.45h0M479.64 389h0M474.98 395.32h0M470.33 401.34h0M465.67 407.03h0M461.01 412.4h0M456.36 417.53h0M451.7 422.45h0M447.04 427.21h0M442.39 431.86h0M437.73 436.44h0M433.07 440.99h0M428.42 445.48h0M423.76 449.86h0M419.1 454.16h0M414.45 458.4h0M409.79 462.6h0M405.13 466.79h0M400.48 470.98h0M395.82 475.17h0M391.16 479.36h0M386.51 483.53h0M381.85 487.69h0M377.19 491.84h0M372.54 495.98h0M367.88 500.11h0M363.22 504.23h0M358.57 508.34h0M353.91 512.43h0M349.25 516.52h0M344.6 520.59h0M339.94 524.66h0M335.28 528.71h0M330.63 532.76h0M325.97 536.79h0M321.31 540.82h0M316.66 544.83h0M312 548.84h0M307.34 552.83h0M302.69 556.79h0M298.03 560.72h0M293.37 564.64h0M288.72 568.54h0M284.06 572.45h0M279.4 576.37h0M274.75 580.29h0M270.09 584.18h0M265.43 588.05h0M260.78 591.9h0M256.12 595.74h0M251.46 599.56h0M246.81 603.38h0M242.15 607.21h0M237.49 611.03h0M232.84 614.87h0M228.18 618.72h0M223.52 622.58h0M218.86 626.47h0M214.21 630.39h0M209.55 634.33h0M204.89 638.31h0M200.24 642.34h0M195.58 646.4h0M190.92 650.52h0M186.27 654.69h0M181.61 658.92h0M176.95 663.21h0M172.3 667.54h0M167.64 671.96h0M162.98 676.51h0M158.33 681.23h0M153.67 686.18h0M149.01 691.46h0M144.36 697.08h0M139.7 702.94h0M135.04 827.3h0M130.39 830.48h0M125.73 833.67h0M121.07 836.85h0M116.42 840.04h0M111.76 843.22h0M107.1 846.41h0M102.45 849.59h0M97.79 852.78h0M93.13 855.96h0M88.48 861.25h0M83.82 862.36h0M79.16 863.46h0M74.51 865h0M69.85 865h0M65.19 865h0M60.54 865h0M55.88 865h0M51.22 865h0M46.57 865h0M41.91 865h0M37.25 865h0M32.6 865h0M27.94 865h0M23.28 865h0M18.63 865h0M13.97 866.55h0M9.31 866.55h0M4.66 866.55h0M0 866.55h0" stroke="#000" stroke-width="17.7" stroke-linecap="round" fill="none"/>
<path d="M0 866.55L4.66 866.55L9.31 866.55L13.97 866.55L18.63 865L23.28 865L27.94 865L32.6 865L37.25 865L41.91 865L46.57 865L51.22 865L55.88 865L60.54 865L65.19 865L69.85 865L74.51 865L79.16 865L83.82 865L88.48 865L93.13 855.96L97.79 853.04L102.45 850.04L107.1 846.96L111.76 843.81L116.42 840.6L121.07 837.34L125.73 834.03L130.39 830.68L135.04 827.3L139.7 823.77L144.36 820.01L149.01 816.16L153.67 812.22L158.33 808.21L162.98 804.14L167.64 800.02L172.3 795.86L176.95 791.69L181.61 787.5L186.27 783.32L190.92 779.15L195.58 775.01L200.24 770.92L204.89 766.85L209.55 762.81L214.21 758.79L218.86 754.78L223.52 750.78L228.18 746.77L232.84 742.76L237.49 738.75L242.15 734.71L246.81 730.65L251.46 726.57L256.12 722.45L260.78 718.3L265.43 714.1L270.09 709.85L274.75 705.54L279.4 701.17L284.06 696.72L288.72 692.17L293.37 687.54L298.03 682.86L302.69 678.13L307.34 673.37L312 668.61L316.66 663.85L321.31 659.13L325.97 654.47L330.63 649.86L335.28 645.27L339.94 640.68L344.6 636.06L349.25 631.39L353.91 626.63L358.57 621.78L363.22 616.8L367.88 611.67L372.54 606.36L377.19 600.87L381.85 595.21L386.51 589.39L391.16 583.41L395.82 577.27L400.48 570.98L405.13 564.54L409.79 557.96L414.45 551.24L419.1 544.14L423.76 536.57L428.42 528.76L433.07 520.95L437.73 513.37L442.39 506.26L447.04 499.53L451.7 492.98L456.36 486.66L461.01 480.64L465.67 474.95L470.33 469.59L474.98 464.48L479.64 459.58L484.3 454.84L488.95 450.19L493.61 445.59L498.27 440.99L502.92 436.41L507.58 431.89L512.24 427.44L516.89 423.04L521.55 418.7L526.21 414.39L530.86 410.12L535.52 405.89L540.18 401.69L544.83 397.54L549.49 393.44L554.15 389.4L558.8 385.43L563.46 381.54L568.12 377.76L572.77 374.03L577.43 370.33L582.09 366.61L586.74 362.84L591.4 358.97L596.06 354.98L600.71 350.89L605.37 346.75L610.03 342.59L614.68 338.44L619.34 334.35L624 330.35L628.65 326.45L633.31 322.62L637.97 318.83L642.62 315.05L647.28 311.24L651.94 307.37L656.59 303.47L661.25 299.58L665.91 295.7L670.56 291.83L675.22 287.96L679.88 284.08L684.53 280.2L689.19 276.31L693.85 272.4L698.5 268.48L703.16 264.53L707.82 260.57L712.48 256.57L717.13 252.54L721.79 248.48L726.45 244.37L731.1 240.23L735.76 236.03L740.42 231.79L745.07 227.49L749.73 223.14L754.39 218.71L759.04 214.14L763.7 209.44L768.36 204.65L773.01 199.79L777.67 194.92L782.33 189.99L786.98 184.99L791.64 179.92L796.3 54.68L800.95 50.96L805.61 47.39L810.27 43.96L814.92 40.67L819.58 37.52L824.24 34.48L828.89 31.56L833.55 28.74L838.21 26.02L842.86 23.36L847.52 21.17L852.18 19.38L856.83 17.99L861.49 17.57L866.15 17.42L870.8 17.29L875.46 17.19L880.12 17.11L884.77 17.05L889.43 17.01L894.09 16.99L898.74 16.98L903.4 16.98L908.06 16.98L912.71 16.98L917.37 15.43L922.03 15.43L926.68 15.43L931.34 15.43" stroke="#1f77b4" stroke-width="3.4" fill="none" stroke-linejoin="round"/>
<path d="M0 866.55h0M4.66 866.55h0M9.31 866.55h0M13.97 866.55h0M18.63 865h0M23.28 865h0M27.94 865h0M32.6 865h0M37.25 865h0M41.91 865h0M46.57 865h0M51.22 865h0M55.88 865h0M60.54 865h0M65.19 865h0M69.85 865h0M74.51 865h0M79.16 865h0M83.82 865h0M88.48 865h0M93.13 855.96h0M97.79 853.04h0M102.45 850.04h0M107.1 846.96h0M111.76 843.81h0M116.42 840.6h0M121.07 837.34h0M125.73 834.03h0M130.39 830.68h0M135.04 827.3h0M139.7 823.77h0M144.36 820.01h0M149.01 816.16h0M153.67 812.22h0M158.33 808.21h0M162.98 804.14h0M167.64 800.02h0M172.3 795.86h0M176.95 791.69h0M181.61 787.5h0M186.27 783.32h0M190.92 779.15h0M195.58 775.01h0M200.24 770.92h0M204.89 766.85h0M209.55 762.81h0M214.21 758.79h0M218.86 754.78h0M223.52 750.78h0M228.18 746.77h0M232.84 742.76h0M237.49 738.75h0M242.15 734.71h0M246.81 730.65h0M251.46 726.57h0M256.12 722.45h0M260.78 718.3h0M265.43 714.1h0M270.09 709.85h0M274.75 705.54h0M279.4 701.17h0M284.06 696.72h0M288.72 692.17h0M293.37 687.54h0M298.03 682.86h0M302.69 678.13h0M307.34 673.37h0M312 668.61h0M316.66 663.85h0M321.31 659.13h0M325.97 654.47h0M330.63 649.86h0M335.28 645.27h0M339.94 640.68h0M344.6 636.06h0M349.25 631.39h0M353.91 626.63h0M358.57 621.78h0M363.22 616.8h0M367.88 611.67h0M372.54 606.36h0M377.19 600.87h0M381.85 595.21h0M386.51 589.39h0M391.16 583.41h0M395.82 577.27h0M400.48 570.98h0M405.13 564.54h0M409.79 557.96h0M414.45 551.24h0M419.1 544.14h0M423.76 536.57h0M428.42 528.76h0M433.07 520.95h0M437.73 513.37h0M442.39 506.26h0M447.04 499.53h0M451.7 492.98h0M456.36 486.66h0M461.01 480.64h0M465.67 474.95h0M470.33 469.59h0M474.98 464.48h0M479.64 459.58h0M484.3 454.84h0M488.95 450.19h0M493.61 445.59h0M498.27 440.99h0M502.92 436.41h0M507.58 431.89h0M512.24 427.44h0M516.89 423.04h0M521.55 418.7h0M526.21 414.39h0M530.86 410.12h0M535.52 405.89h0M540.18 401.69h0M544.83 397.54h0M549.49 393.44h0M554.15 389.4h0M558.8 385.43h0M563.46 381.54h0M568.12 377.76h0M572.77 374.03h0M577.43 370.33h0M582.09 366.61h0M586.74 362.84h0M591.4 358.97h0M596.06 354.98h0M600.71 350.89h0M605.37 346.75h0M610.03 342.59h0M614.68 338.44h0M619.34 334.35h0M624 330.35h0M628.65 326.45h0M633.31 322.62h0M637.97 318.83h0M642.62 315.05h0M647.28 311.24h0M651.94 307.37h0M656.59 303.47h0M661.25 299.58h0M665.91 295.7h0M670.56 291.83h0M675.22 287.96h0M679.88 284.08h0M684.53 280.2h0M689.19 276.31h0M693.85 272.4h0M698.5 268.48h0M703.16 264.53h0M707.82 260.57h0M712.48 256.57h0M717.13 252.54h0M721.79 248.48h0M726.45 244.37h0M731.1 240.23h0M735.76 236.03h0M740.42 231.79h0M745.07 227.49h0M749.73 223.14h0M754.39 218.71h0M759.04 214.14h0M763.7 209.44h0M768.36 204.65h0M773.01 199.79h0M777.67 194.92h0M782.33 189.99h0M786.98 184.99h0M791.64 179.92h0M796.3 54.68h0M800.95 50.96h0M805.61 47.39h0M810.27 43.96h0M814.92 40.67h0M819.58 37.52h0M824.24 34.48h0M828.89 31.56h0M833.55 28.74h0M838.21 26.02h0M842.86 23.36h0M847.52 21.17h0M852.18 19.38h0M856.83 17.99h0M861.49 17.57h0M866.15 17.42h0M870.8 17.29h0M875.46 17.19h0M880.12 17.11h0M884.77 17.05h0M889.43 17.01h0M894.09 16.99h0M898.74 16.98h0M903.4 16.98h0M908.06 16.98h0M912.71 16.98h0M917.37 15.43h0M922.03 15.43h0M926.68 15.43h0M931.34 15.43h0" stroke="#1f77b4" stroke-width="17.7" stroke-linecap="round" fill="none"/>
</g>
<rect x="700.44" y="821.57" width="217.88" height="46.95" rx="5.5" fill="#fff" fill-opacity="0.8" stroke="#ccc" stroke-opacity="0.8" stroke-width="2.2"/>
<path d="M708.5 841.7H762.3" stroke="#000" stroke-width="3.4"/>
<circle cx="737.1" cy="841.9" r="8.85" fill="#000"/>
<text y="852.2" font-size="25.9" fill="#111"><tspan x="784.6" font-style="italic">t</tspan><tspan x="799.5">=</tspan><tspan x="825.1">45 nm</tspan></text>
<path d="M0 1.77H931.34V882.44H0Z" fill="none" stroke="#000" stroke-width="2.2"/>
<path d="M93.13 882.44v10.2M279.4 882.44v10.2M465.67 882.44v10.2M651.94 882.44v10.2M838.21 882.44v10.2M0 1.77h-10.2M0 110.25h-10.2M0 220.5h-10.2M0 330.74h-10.2M0 440.99h-10.2M0 551.24h-10.2M0 661.49h-10.2M0 771.73h-10.2M0 882.44h-10.2" stroke="#000" stroke-width="2.2" fill="none"/>
<g font-size="32.6" fill="#111">
<text transform="translate(92.63,927.18) scale(1,1.045)" text-anchor="middle">−400</text>
<text transform="translate(278.9,927.18) scale(1,1.045)" text-anchor="middle">−200</text>
<text transform="translate(465.17,927.18) scale(1,1.045)" text-anchor="middle">0</text>
<text transform="translate(651.44,927.18) scale(1,1.045)" text-anchor="middle">200</text>
<text transform="translate(837.71,927.18) scale(1,1.045)" text-anchor="middle">400</text>
<text transform="translate(-18.6,12.9) scale(1,1.045)" text-anchor="end">1.00</text>
<text transform="translate(-18.6,123.15) scale(1,1.045)" text-anchor="end">0.75</text>
<text transform="translate(-18.6,233.4) scale(1,1.045)" text-anchor="end">0.50</text>
<text transform="translate(-18.6,343.64) scale(1,1.045)" text-anchor="end">0.25</text>
<text transform="translate(-18.6,453.89) scale(1,1.045)" text-anchor="end">0.00</text>
<text transform="translate(-18.6,564.14) scale(1,1.045)" text-anchor="end">−0.25</text>
<text transform="translate(-18.6,674.38) scale(1,1.045)" text-anchor="end">−0.50</text>
<text transform="translate(-18.6,784.63) scale(1,1.045)" text-anchor="end">−0.75</text>
<text transform="translate(-18.6,894.88) scale(1,1.045)" text-anchor="end">−1.00</text>
</g>
</g></g>
<rect x="0" y="540" width="120" height="80" fill="#fff"/>
<rect x="1215" y="1580" width="121.7" height="290" fill="#fff"/>
<text transform="translate(67,587.3) rotate(-90)" font-size="58.0" font-style="italic" fill="#000"><tspan x="-1">M</tspan><tspan font-size="38.5" x="52.5" dy="15.4">X</tspan><tspan font-size="64" x="85" dy="-13.6">/</tspan><tspan x="126" dy="-1.8">M</tspan><tspan font-size="38.5" x="178.5" dy="15.4">S</tspan></text>
<text transform="translate(1277.8,587.3) rotate(-90)" font-size="58.0" font-style="italic" fill="#000"><tspan x="-1">M</tspan><tspan font-size="38.5" x="52.5" dy="15.4">X</tspan><tspan font-size="64" x="85" dy="-13.6">/</tspan><tspan x="126" dy="-1.8">M</tspan><tspan font-size="38.5" x="178.5" dy="15.4">S</tspan></text>
<text transform="translate(65,1830.7) rotate(-90)" font-size="58.0" font-style="italic" fill="#000"><tspan x="-1">M</tspan><tspan font-size="38.5" x="52.5" dy="15.4">X</tspan><tspan font-size="64" x="85" dy="-13.6">/</tspan><tspan x="126" dy="-1.8">M</tspan><tspan font-size="38.5" x="178.5" dy="15.4">S</tspan></text>
<text transform="translate(1295.1,1831.5) rotate(-90)" font-size="58.0" font-style="italic" fill="#000"><tspan x="-1">M</tspan><tspan font-size="38.5" x="52.5" dy="15.4">X</tspan><tspan font-size="64" x="85" dy="-13.6">/</tspan><tspan x="126" dy="-1.8">M</tspan><tspan font-size="38.5" x="178.5" dy="15.4">S</tspan></text>
<text transform="translate(600.7,1057.5) scale(0.95,1)" font-size="56.4" font-style="italic" fill="#000"><tspan x="0">H</tspan><tspan x="57.6" dy="3" font-size="63.7">(</tspan><tspan x="79.9" dy="-3">mT</tspan><tspan x="168.4" dy="3" font-size="63.7">)</tspan></text>
<text transform="translate(1829.8,1057.5) scale(0.95,1)" font-size="56.4" font-style="italic" fill="#000"><tspan x="0">H</tspan><tspan x="57.6" dy="3" font-size="63.7">(</tspan><tspan x="79.9" dy="-3">mT</tspan><tspan x="168.4" dy="3" font-size="63.7">)</tspan></text>
<text transform="translate(632.9,2304.7) scale(0.95,1)" font-size="56.4" font-style="italic" fill="#000"><tspan x="0">H</tspan><tspan x="57.6" dy="3" font-size="63.7">(</tspan><tspan x="79.9" dy="-3">mT</tspan><tspan x="168.4" dy="3" font-size="63.7">)</tspan></text>
<text transform="translate(1798.9,2304.7) scale(0.95,1)" font-size="56.4" font-style="italic" fill="#000"><tspan x="0">H</tspan><tspan x="57.6" dy="3" font-size="63.7">(</tspan><tspan x="79.9" dy="-3">mT</tspan><tspan x="168.4" dy="3" font-size="63.7">)</tspan></text>
<text x="702.3" y="1165.6" font-size="77" text-anchor="middle" fill="#000" letter-spacing="-1" font-family="'Liberation Sans', sans-serif">(a)</text>
<text x="1876.8" y="1163.6" font-size="77" text-anchor="middle" fill="#000" letter-spacing="-1" font-family="'Liberation Sans', sans-serif">(b)</text>
<text x="727.1" y="2431.5" font-size="77" text-anchor="middle" fill="#000" letter-spacing="-1" font-family="'Liberation Sans', sans-serif">(c)</text>
<text x="1877.5" y="2433.3" font-size="77" text-anchor="middle" fill="#000" letter-spacing="-1" font-family="'Liberation Sans', sans-serif">(d)</text>
</svg></body></html>
